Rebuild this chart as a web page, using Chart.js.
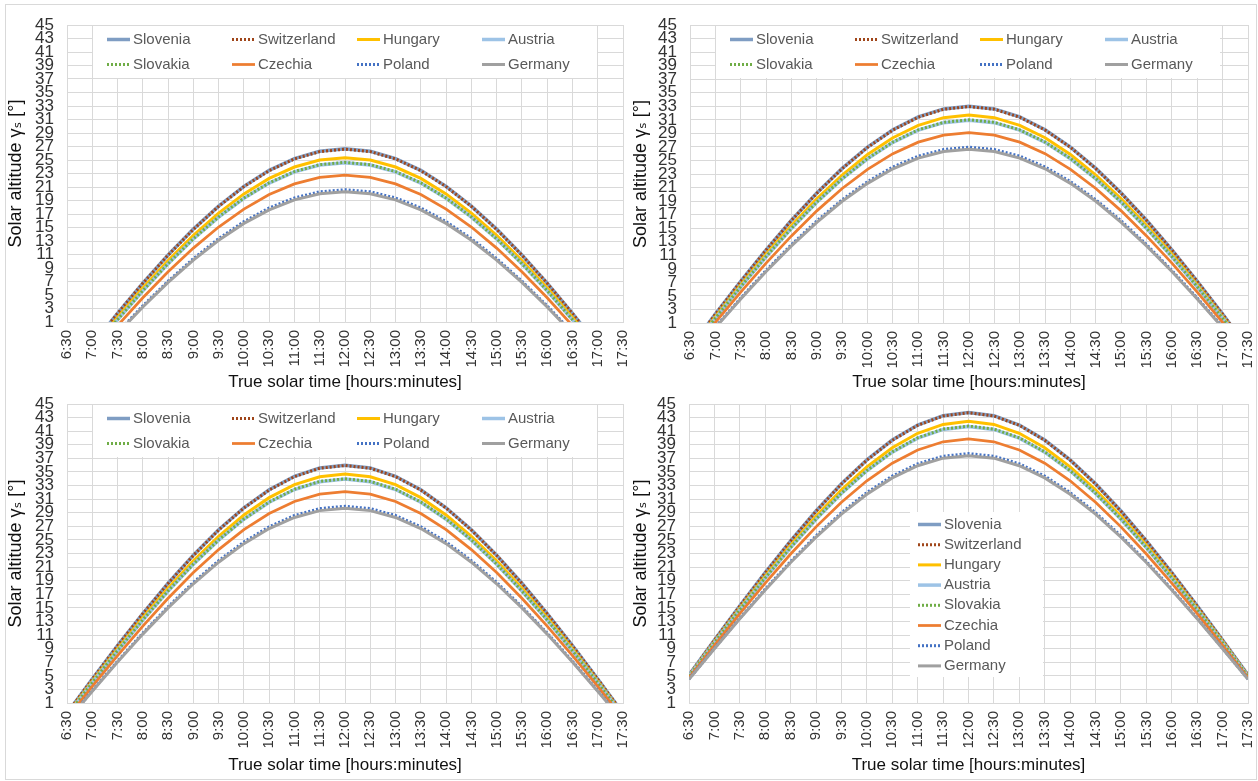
<!DOCTYPE html>
<html><head><meta charset="utf-8">
<script src="https://cdn.jsdelivr.net/npm/chart.js@4.4.1/dist/chart.umd.min.js"></script>
<style>
html,body{margin:0;padding:0;background:#fff;}
body{width:1258px;height:781px;position:relative;overflow:hidden;}
.frame{position:absolute;left:5px;top:4px;width:1252px;height:776px;border:1px solid #d9d9d9;box-sizing:border-box;}
canvas{position:absolute;}
</style></head><body>
<div class="frame"></div>
<canvas id="c1"></canvas><canvas id="c2"></canvas><canvas id="c3"></canvas><canvas id="c4"></canvas>
<script>
// ---------- data ----------
const timeLabels = ['6:30','7:00','7:30','8:00','8:30','9:00','9:30','10:00','10:30','11:00','11:30','12:00','12:30','13:00','13:30','14:00','14:30','15:00','15:30','16:00','16:30','17:00','17:30'];
const yTickValues = [1,3,5,7,9,11,13,15,17,19,21,23,25,27,29,31,33,35,37,39,41,43,45];
const countries = ['Slovenia','Switzerland','Hungary','Austria','Slovakia','Czechia','Poland','Germany'];

// panel 1 (top left)
const p1Slovenia    = [-7.29,-2.40,2.29,6.76,10.93,14.76,18.17,21.09,23.46,25.21,26.29,26.65,26.29,25.21,23.46,21.09,18.17,14.76,10.93,6.76,2.29,-2.40,-7.29];
const p1Switzerland = [-7.31,-2.42,2.27,6.73,10.90,14.72,18.13,21.05,23.42,25.16,26.24,26.60,26.24,25.16,23.42,21.05,18.13,14.72,10.90,6.73,2.27,-2.42,-7.31];
const p1Hungary     = [-7.67,-2.90,1.68,6.04,10.10,13.82,17.14,19.98,22.27,23.96,25.00,25.35,25.00,23.96,22.27,19.98,17.14,13.82,10.10,6.04,1.68,-2.90,-7.67];
const p1Austria     = [-7.89,-3.19,1.33,5.62,9.62,13.29,16.54,19.33,21.58,23.24,24.26,24.60,24.26,23.24,21.58,19.33,16.54,13.29,9.62,5.62,1.33,-3.19,-7.89];
const p1Slovakia    = [-7.87,-3.16,1.36,5.65,9.65,13.33,16.58,19.37,21.62,23.29,24.31,24.65,24.31,23.29,21.62,19.37,16.58,13.33,9.65,5.65,1.36,-3.16,-7.87];
const p1Czechia     = [-8.43,-3.90,0.46,4.59,8.44,11.95,15.07,17.73,19.88,21.46,22.43,22.75,22.43,21.46,19.88,17.73,15.07,11.95,8.44,4.59,0.46,-3.90,-8.43];
const p1Poland      = [-9.05,-4.71,-0.55,3.39,7.05,10.39,13.35,15.87,17.90,19.38,20.29,20.60,20.29,19.38,17.90,15.87,13.35,10.39,7.05,3.39,-0.55,-4.71,-9.05];
const p1Germany     = [-9.13,-4.82,-0.69,3.22,6.86,10.17,13.11,15.61,17.62,19.09,20.00,20.30,20.00,19.09,17.62,15.61,13.11,10.17,6.86,3.22,-0.69,-4.82,-9.13];

// panel 2 (top right)
const p2Slovenia    = [-2.69,2.31,7.16,11.80,16.17,20.20,23.83,26.97,29.53,31.43,32.61,33.00,32.61,31.43,29.53,26.97,23.83,20.20,16.17,11.80,7.16,2.31,-2.69];
const p2Switzerland = [-2.71,2.29,7.13,11.77,16.14,20.16,23.79,26.93,29.49,31.38,32.56,32.95,32.56,31.38,29.49,26.93,23.79,20.16,16.14,11.77,7.13,2.29,-2.71];
const p2Hungary     = [-2.98,1.90,6.63,11.15,15.41,19.33,22.85,25.88,28.36,30.19,31.32,31.70,31.32,30.19,28.36,25.88,22.85,19.33,15.41,11.15,6.63,1.90,-2.98];
const p2Austria     = [-3.15,1.67,6.33,10.78,14.96,18.82,22.27,25.25,27.68,29.47,30.58,30.95,30.58,29.47,27.68,25.25,22.27,18.82,14.96,10.78,6.33,1.67,-3.15];
const p2Slovakia    = [-3.13,1.70,6.36,10.81,14.99,18.86,22.31,25.29,27.72,29.52,30.63,31.00,30.63,29.52,27.72,25.29,22.31,18.86,14.99,10.81,6.36,1.70,-3.13];
const p2Czechia     = [-3.55,1.08,5.57,9.85,13.86,17.56,20.86,23.69,26.00,27.70,28.75,29.10,28.75,27.70,26.00,23.69,20.86,17.56,13.86,9.85,5.57,1.08,-3.55];
const p2Poland      = [-4.02,0.40,4.68,8.76,12.58,16.08,19.20,21.87,24.04,25.64,26.62,26.95,26.62,25.64,24.04,21.87,19.20,16.08,12.58,8.76,4.68,0.40,-4.02];
const p2Germany     = [-4.09,0.31,4.56,8.60,12.39,15.87,18.97,21.62,23.77,25.35,26.32,26.65,26.32,25.35,23.77,21.62,18.97,15.87,12.39,8.60,4.56,0.31,-4.09];

// panel 3 (bottom left)
const p3Slovenia    = [-0.51,4.54,9.45,14.16,18.62,22.75,26.49,29.73,32.38,34.36,35.59,36.00,35.59,34.36,32.38,29.73,26.49,22.75,18.62,14.16,9.45,4.54,-0.51];
const p3Switzerland = [-0.53,4.51,9.42,14.13,18.59,22.71,26.45,29.69,32.34,34.31,35.54,35.95,35.54,34.31,32.34,29.69,26.45,22.71,18.59,14.13,9.42,4.51,-0.53];
const p3Hungary     = [-0.76,4.17,8.96,13.55,17.89,21.91,25.52,28.66,31.22,33.13,34.30,34.70,34.30,33.13,31.22,28.66,25.52,21.91,17.89,13.55,8.96,4.17,-0.76];
const p3Austria     = [-0.90,3.96,8.68,13.20,17.47,21.41,24.96,28.04,30.55,32.41,33.56,33.95,33.56,32.41,30.55,28.04,24.96,21.41,17.47,13.20,8.68,3.96,-0.90];
const p3Slovakia    = [-0.88,3.99,8.71,13.23,17.50,21.45,25.00,28.08,30.59,32.46,33.61,34.00,33.61,32.46,30.59,28.08,25.00,21.45,17.50,13.23,8.71,3.99,-0.88];
const p3Czechia     = [-1.24,3.44,7.97,12.32,16.41,20.19,23.58,26.50,28.88,30.65,31.73,32.10,31.73,30.65,28.88,26.50,23.58,20.19,16.41,12.32,7.97,3.44,-1.24];
const p3Poland      = [-1.64,2.82,7.15,11.28,15.17,18.75,21.95,24.70,26.94,28.59,29.61,29.95,29.61,28.59,26.94,24.70,21.95,18.75,15.17,11.28,7.15,2.82,-1.64];
const p3Germany     = [-1.70,2.74,7.03,11.14,15.00,18.55,21.72,24.45,26.67,28.30,29.31,29.65,29.31,28.30,26.67,24.45,21.72,18.55,15.00,11.14,7.03,2.74,-1.70];

// panel 4 (bottom right)
const p4Slovenia    = [5.12,10.26,15.30,20.19,24.87,29.25,33.26,36.78,39.70,41.91,43.28,43.75,43.28,41.91,39.70,36.78,33.26,29.25,24.87,20.19,15.30,10.26,5.12];
const p4Switzerland = [5.10,10.23,15.27,20.16,24.83,29.21,33.22,36.74,39.66,41.86,43.23,43.70,43.23,41.86,39.66,36.74,33.22,29.21,24.83,20.16,15.27,10.23,5.10];
const p4Hungary     = [4.99,10.01,14.92,19.68,24.23,28.48,32.36,35.76,38.57,40.69,42.00,42.45,42.00,40.69,38.57,35.76,32.36,28.48,24.23,19.68,14.92,10.01,4.99];
const p4Austria     = [4.92,9.86,14.70,19.39,23.86,28.04,31.84,35.17,37.92,39.98,41.26,41.70,41.26,39.98,37.92,35.17,31.84,28.04,23.86,19.39,14.70,9.86,4.92];
const p4Slovakia    = [4.93,9.88,14.73,19.42,23.89,28.08,31.88,35.21,37.96,40.03,41.31,41.75,41.31,40.03,37.96,35.21,31.88,28.08,23.89,19.42,14.73,9.88,4.93];
const p4Czechia     = [4.73,9.49,14.15,18.65,22.93,26.92,30.54,33.70,36.29,38.24,39.44,39.85,39.44,38.24,36.29,33.70,30.54,26.92,22.93,18.65,14.15,9.49,4.73];
const p4Poland      = [4.51,9.05,13.48,17.76,21.82,25.60,29.00,31.97,34.40,36.20,37.32,37.70,37.32,36.20,34.40,31.97,29.00,25.60,21.82,17.76,13.48,9.05,4.51];
const p4Germany     = [4.48,8.99,13.39,17.64,21.67,25.41,28.79,31.72,34.13,35.92,37.03,37.40,37.03,35.92,34.13,31.72,28.79,25.41,21.67,17.64,13.39,8.99,4.48];

const panelSeries = [
  [p1Slovenia,p1Switzerland,p1Hungary,p1Austria,p1Slovakia,p1Czechia,p1Poland,p1Germany],
  [p2Slovenia,p2Switzerland,p2Hungary,p2Austria,p2Slovakia,p2Czechia,p2Poland,p2Germany],
  [p3Slovenia,p3Switzerland,p3Hungary,p3Austria,p3Slovakia,p3Czechia,p3Poland,p3Germany],
  [p4Slovenia,p4Switzerland,p4Hungary,p4Austria,p4Slovakia,p4Czechia,p4Poland,p4Germany]
];

// ---------- styles ----------
const seriesStyles = [
  {color:'#7F9DC3', width:3.5, dash:[]},
  {color:'#A0461A', width:3,   dash:[2,2]},
  {color:'#FFC000', width:3,   dash:[]},
  {color:'#9DC3E6', width:3.5, dash:[]},
  {color:'#70AD47', width:3,   dash:[2,2]},
  {color:'#ED7D31', width:2.75,dash:[]},
  {color:'#4472C4', width:3,   dash:[2,2]},
  {color:'#A0A0A0', width:3,   dash:[]}
];
const FONT = '"Liberation Sans", Arial, "DejaVu Sans", sans-serif';

const panels = [
  {id:'c1', left:5,   top:4,   width:640, height:389, area:{l:67, t:25,  r:623,  b:322}, yTitleX:16,  xTitleY:382, legend:'grid'},
  {id:'c2', left:625, top:4,   width:632, height:389, area:{l:690,t:25,  r:1248, b:323}, yTitleX:641, xTitleY:382, legend:'grid'},
  {id:'c3', left:5,   top:393, width:640, height:386, area:{l:67, t:404, r:623,  b:703}, yTitleX:16,  xTitleY:765, legend:'grid'},
  {id:'c4', left:625, top:393, width:632, height:386, area:{l:689,t:404, r:1248, b:703}, yTitleX:641, xTitleY:765, legend:'list'}
];

const legendPlugin = {
  id: 'panelLegend',
  afterDraw(chart, args, opts) {
    const {ctx, chartArea: a} = chart;
    const ds = chart.data.datasets;
    ctx.save();
    ctx.font = '15px ' + FONT;
    ctx.textBaseline = 'middle';
    ctx.textAlign = 'left';
    const items = [];
    ctx.fillStyle = '#fff';
    if (opts.mode === 'grid') {
      ctx.fillRect(a.left + 26, a.top + 1, 504, 52);
      ds.forEach((d, i) => items.push([a.left + 40 + 125 * (i % 4), a.top + 14.5 + 25 * Math.floor(i / 4), d]));
    } else {
      ctx.fillRect(a.left + 221, a.top + 108, 133, 165);
      ds.forEach((d, i) => items.push([a.left + 229, a.top + 120.5 + 20.2 * i, d]));
    }
    items.forEach(([x, y, d]) => {
      ctx.beginPath();
      ctx.strokeStyle = d.borderColor;
      ctx.lineWidth = d.borderWidth;
      ctx.setLineDash(d.borderDash || []);
      ctx.moveTo(x, y); ctx.lineTo(x + 23, y); ctx.stroke();
      ctx.setLineDash([]);
      ctx.fillStyle = '#595959';
      ctx.fillText(d.label, x + 26, y);
    });
    ctx.restore();
  }
};

panels.forEach((p, pi) => {
  const cv = document.getElementById(p.id);
  cv.width = p.width; cv.height = p.height;
  cv.style.left = p.left + 'px'; cv.style.top = p.top + 'px';
  const yW = p.area.l - p.left;
  const xH = (p.top + p.height) - p.area.b;
  const yTitleLH = 18 * 1.2, xTitleLH = 17 * 1.2;
  new Chart(cv, {
    type: 'line',
    data: {
      labels: timeLabels,
      datasets: countries.map((name, i) => ({
        label: name,
        data: panelSeries[pi][i],
        borderColor: seriesStyles[i].color,
        backgroundColor: seriesStyles[i].color,
        borderWidth: seriesStyles[i].width,
        borderDash: seriesStyles[i].dash,
        pointRadius: 0,
        tension: 0,
        fill: false,
        clip: 0,
        order: countries.length - i
      }))
    },
    options: {
      responsive: false,
      animation: false,
      events: [],
      layout: {padding: {left: 0, top: p.area.t - p.top, right: (p.left + p.width) - p.area.r, bottom: 0}},
      plugins: {
        legend: {display: false},
        tooltip: {enabled: false},
        panelLegend: {mode: p.legend}
      },
      scales: {
        x: {
          type: 'category',
          offset: false,
          grid: {color: '#D9D9D9', lineWidth: 1, drawTicks: false, offset: false},
          border: {color: '#D9D9D9'},
          ticks: {autoSkip: false, minRotation: 90, maxRotation: 90, padding: 8, color: '#333', font: {family: FONT, size: 15}},
          title: {display: true, text: 'True solar time [hours:minutes]', color: '#111', font: {family: FONT, size: 17},
                  padding: {top: 0, bottom: (p.top + p.height) - p.xTitleY - xTitleLH / 2}},
          afterFit(s) { s.height = xH; s.paddingLeft = 0; s.paddingRight = 0; }
        },
        y: {
          type: 'linear',
          min: 1, max: 45,
          grid: {color: '#D9D9D9', lineWidth: 1, drawTicks: false},
          border: {color: '#D9D9D9'},
          afterBuildTicks(s) { s.ticks = yTickValues.map(v => ({value: v})); },
          ticks: {autoSkip: false, padding: 13, color: '#333', font: {family: FONT, size: 17}},
          title: {display: true, text: 'Solar altitude γₛ [°]', color: '#111', font: {family: FONT, size: 18},
                  padding: {top: p.yTitleX - p.left - yTitleLH / 2, bottom: 0}},
          afterFit(s) { s.width = yW; s.paddingTop = 0; s.paddingBottom = 0; }
        }
      }
    },
    plugins: [legendPlugin]
  });
});
</script>
</body></html>
